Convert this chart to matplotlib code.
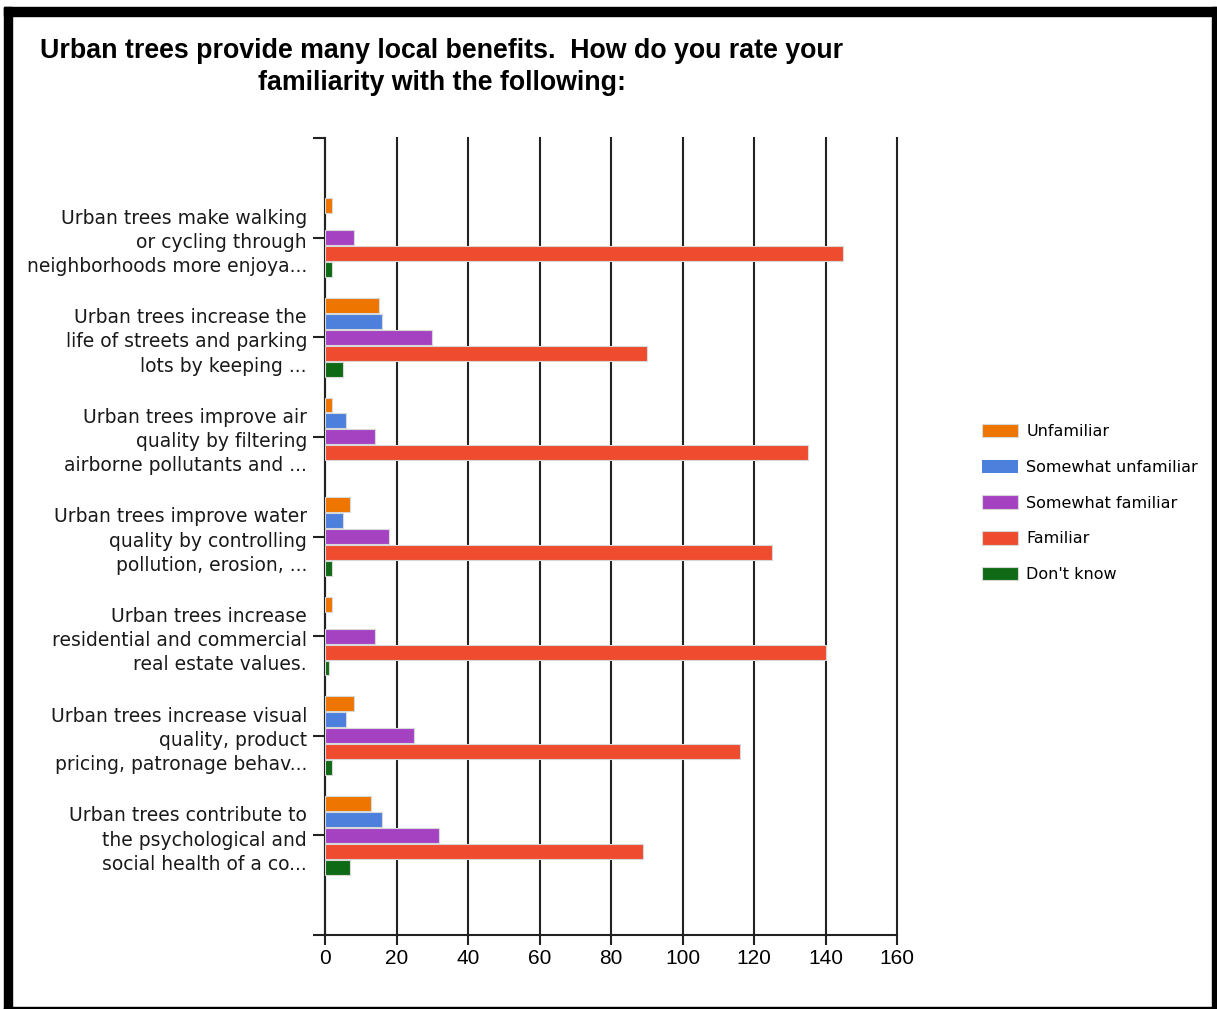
import numpy as np
import matplotlib.pyplot as plt
from matplotlib.patches import Rectangle

################################################# Data
categories = [
    "Urban trees make walking\nor cycling through\nneighborhoods more enjoya...",
    "Urban trees increase the\nlife of streets and parking\nlots by keeping ...",
    "Urban trees improve air\nquality by filtering\nairborne pollutants and ...",
    "Urban trees improve water\nquality by controlling\npollution, erosion, ...",
    "Urban trees increase\nresidential and commercial\nreal estate values.",
    "Urban trees increase visual\nquality, product\npricing, patronage behav...",
    "Urban trees contribute to\nthe psychological and\nsocial health of a co...",
]
series_names = ["Unfamiliar", "Somewhat unfamiliar", "Somewhat familiar", "Familiar", "Don't know"]
unfamiliar = [2, 15, 2, 7, 2, 8, 13]
somewhat_unfamiliar = [0, 16, 6, 5, 0, 6, 16]
somewhat_familiar = [8, 30, 14, 18, 14, 25, 32]
familiar = [145, 90, 135, 125, 140, 116, 89]
dont_know = [2, 5, 0, 2, 1, 2, 7]
x_ticks = [0, 20, 40, 60, 80, 100, 120, 140, 160]

title = "Urban trees provide many local benefits.  How do you rate your\nfamiliarity with the following:"

colors = ["#ED7500", "#4C80DC", "#A542C2", "#EE4B2F", "#0E6A14"]
line_col = "#222222"

################################################# Figure
W, H = 1217, 1009
PX = 72 / 100  # points per pixel at dpi 100
fig = plt.figure(figsize=(W / 100, H / 100), dpi=100)
fig.patch.set_facecolor("white")

# black frame
frame = [(4, 7, 1213, 9), (4, 7, 8, 1002), (1212, 7, 5, 1002), (4, 1007, 1213, 2)]
for x0, y0, w, h in frame:
    fig.patches.append(Rectangle((x0 / W, 1 - (y0 + h) / H), w / W, h / H,
                                 transform=fig.transFigure, color="black", zorder=0))

fig.text(442 / W, 1 - 67 / H, title, ha="center", va="center", fontsize=19.3,
         fontweight="bold", family=["Liberation Sans", "DejaVu Sans"],
         linespacing=1.3)

ax = fig.add_axes([325 / W, 1 - 935 / H, 572 / W, 797 / H])

################################################# Bars
data = [unfamiliar, somewhat_unfamiliar, somewhat_familiar, familiar, dont_know]
y = np.arange(1, len(categories) + 1)
step = 0.16
bh = 0.15
for i, (vals, name, c) in enumerate(zip(data, series_names, colors)):
    lw = [0.8 if v > 0 else 0 for v in vals]
    ax.barh(y + (i - 2) * step, vals, height=bh, color=c, edgecolor="#d8d8d8",
            linewidth=lw, label=name, zorder=3)

ax.set_xlim(0, 160)
ax.set_ylim(8, 0)
ax.set_xticks(x_ticks)
ax.set_yticks(range(0, 9))
ax.set_yticklabels([""] + categories + [""])
ax.grid(axis="x", color=line_col, linewidth=1.5, zorder=1)
for g in ax.xaxis.get_gridlines():
    g.set_clip_on(False)
for s in ["top", "right"]:
    ax.spines[s].set_visible(False)
for s in ["left", "bottom"]:
    ax.spines[s].set_linewidth(1.5)
    ax.spines[s].set_color(line_col)
ax.tick_params(axis="y", length=12 * PX, width=1.5, color=line_col, pad=6 * PX)
ax.tick_params(axis="x", length=10 * PX, width=1.5, color=line_col, pad=3)
for lab in ax.get_yticklabels():
    lab.set_family(["DejaVu Sans"])
    lab.set_fontsize(13.5)
    lab.set_linespacing(1.35)
    lab.set_color("#1a1a1a")
for lab in ax.get_xticklabels():
    lab.set_family(["Liberation Sans", "DejaVu Sans"])
    lab.set_fontsize(15)

leg = ax.legend(loc="center left", bbox_to_anchor=(968 / W, 1 - 503 / H),
                bbox_transform=fig.transFigure, frameon=False,
                prop={"family": ["DejaVu Sans"], "size": 11.5},
                handlelength=2.25, handleheight=0.9, labelspacing=1.3, handletextpad=0.5)

fig.savefig("out.png", dpi=100)
